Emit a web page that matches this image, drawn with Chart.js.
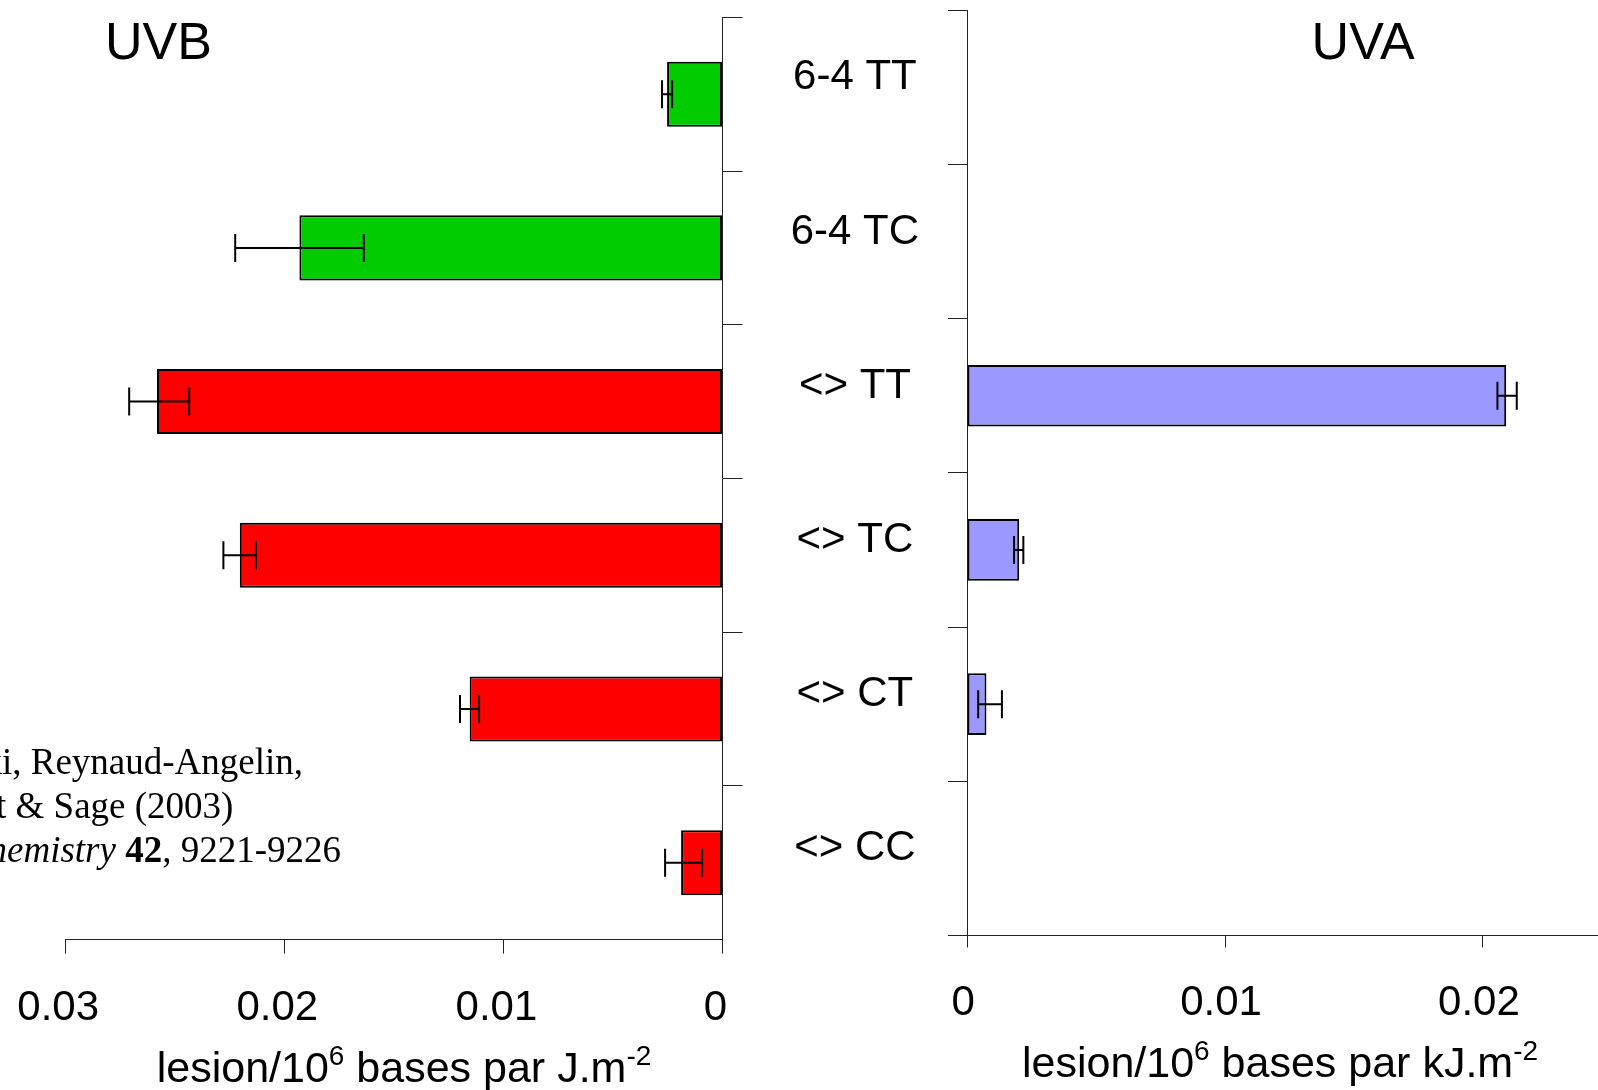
<!DOCTYPE html>
<html><head><meta charset="utf-8">
<script src="https://cdn.jsdelivr.net/npm/chart.js@4.4.0/dist/chart.umd.min.js"></script>
<style>
html,body{margin:0;padding:0;background:#fff;overflow:hidden}
#wrap{position:relative;width:1598px;height:1090px;background:#fff}
#c1{position:absolute;left:0;top:0}
#c2{position:absolute;left:760px;top:0}
</style></head><body>
<div id="wrap"><canvas id="c1" width="760" height="1090"></canvas><canvas id="c2" width="838" height="1090"></canvas></div>
<script>
// ---- data ----
const categories = ['6-4 TT', '6-4 TC', '<> TT', '<> TC', '<> CT', '<> CC'];
const uvbValues  = [0.00253, 0.01931, 0.02581, 0.02203, 0.01154, 0.00189];
const uvbErrLow  = [0.00230, 0.01637, 0.02434, 0.02129, 0.01111, 0.00093];
const uvbErrHigh = [0.00276, 0.02224, 0.02708, 0.02278, 0.01198, 0.00262];
const uvbColors  = ['#00CC00', '#00CC00', '#FF0000', '#FF0000', '#FF0000', '#FF0000'];
const uvaValues  = [null, null, 0.02090, 0.00202, 0.00075, null];
const uvaErrLow  = [null, null, 0.02056, 0.00182, 0.00043, null];
const uvaErrHigh = [null, null, 0.02131, 0.00218, 0.00135, null];
const uvaColor   = '#9999FF';
const uvbTicks = [0, 0.01, 0.02, 0.03];
const uvaTicks = [0, 0.01, 0.02];
const citation = ['Douki, Reynaud-Angelin,', 'Cadet & Sage (2003)'];

const SANS = '"Liberation Sans", Arial, Helvetica, sans-serif';
const SERIF = '"Liberation Serif", "Times New Roman", serif';
const fmt = v => String(+v.toFixed(2));

const errorBars = {
  id: 'errorBars',
  afterDatasetsDraw(chart, args, opts) {
    const ctx = chart.ctx, xs = chart.scales.x, ys = chart.scales.y;
    ctx.save();
    ctx.strokeStyle = '#000'; ctx.lineWidth = 2;
    opts.low.forEach((lo, i) => {
      if (lo == null) return;
      const yc = ys.getPixelForValue(i);
      const x1 = xs.getPixelForValue(lo), x2 = xs.getPixelForValue(opts.high[i]);
      ctx.beginPath();
      ctx.moveTo(x1, yc); ctx.lineTo(x2, yc);
      ctx.moveTo(x1, yc - 14); ctx.lineTo(x1, yc + 14);
      ctx.moveTo(x2, yc - 14); ctx.lineTo(x2, yc + 14);
      ctx.stroke();
    });
    ctx.restore();
  }
};

function drawRuns(ctx, runs, x, y, align) {
  let w = 0;
  runs.forEach(r => { ctx.font = r.font; r.w = ctx.measureText(r.t).width; w += r.w; });
  let cx = align === 'center' ? x - w / 2 : align === 'right' ? x - w : x;
  ctx.textAlign = 'left'; ctx.textBaseline = 'alphabetic';
  runs.forEach(r => { ctx.font = r.font; ctx.fillText(r.t, cx, y + (r.dy || 0)); cx += r.w; });
}
function axisTitle(unit) {
  const main = '43px ' + SANS, sup = '28px ' + SANS;
  return [{t: 'lesion/10', font: main}, {t: '6', font: sup, dy: -17},
          {t: ' bases par ' + unit + '.m', font: main}, {t: '-2', font: sup, dy: -17}];
}

const texts = {
  id: 'texts',
  afterDraw(chart, args, opts) {
    const ctx = chart.ctx;
    ctx.save(); ctx.fillStyle = '#000';
    opts.draw(ctx);
    ctx.restore();
  }
};

const baseFont = {family: SANS, size: 42};

// ---- UVB (left) ----
new Chart(document.getElementById('c1'), {
  type: 'bar',
  data: {labels: categories, datasets: [{
    data: uvbValues, backgroundColor: uvbColors, borderColor: '#000', borderWidth: 2,
    borderSkipped: false, barPercentage: 0.423, categoryPercentage: 1
  }]},
  options: {
    indexAxis: 'y', responsive: false, animation: false, devicePixelRatio: 1,
    layout: {padding: {left: 65.2, top: 17.3, right: 0, bottom: 0}},
    scales: {
      x: {
        type: 'linear', position: 'bottom', reverse: true, min: 0, max: 0.03,
        afterBuildTicks: s => { s.ticks = uvbTicks.map(v => ({value: v})); },
        afterFit: s => { s.height = 150.4; },
        grid: {drawOnChartArea: false, tickLength: 14, color: '#222'},
        border: {display: true, color: '#222', width: 1},
        ticks: {font: baseFont, color: '#000', padding: 30, labelOffset: -7, maxRotation: 0,
                callback: v => fmt(v)}
      },
      y: {
        type: 'category', position: 'right', offset: true,
        afterFit: s => { s.width = 37.5; s.paddingTop = 0; s.paddingBottom = 0; },
        grid: {drawOnChartArea: false, offset: true, tickLength: 20,
               color: c => c.type === 'tick' ? '#222' : 'rgba(0,0,0,0)'},
        border: {display: true, color: '#222', width: 1},
        ticks: {display: false}
      }
    },
    plugins: {
      legend: {display: false}, tooltip: {enabled: false},
      errorBars: {low: uvbErrLow, high: uvbErrHigh},
      texts: {draw: ctx => {
        ctx.font = '52px ' + SANS; ctx.textAlign = 'left'; ctx.textBaseline = 'alphabetic';
        ctx.fillText('UVB', 105, 59);
        drawRuns(ctx, axisTitle('J'), 404, 1082, 'center');
        ctx.font = '37px ' + SERIF; ctx.textAlign = 'right';
        ctx.fillText(citation[0], 303, 773.5);
        ctx.fillText(citation[1], 233.4, 818.3);
        drawRuns(ctx, [{t: 'Biochemistry', font: 'italic 37px ' + SERIF},
                       {t: ' ', font: '37px ' + SERIF},
                       {t: '42', font: 'bold 37px ' + SERIF},
                       {t: ', 9221-9226', font: '37px ' + SERIF}], 341, 862, 'right');
      }}
    }
  },
  plugins: [errorBars, texts]
});

// ---- UVA (right) ----
new Chart(document.getElementById('c2'), {
  type: 'bar',
  data: {labels: categories, datasets: [{
    data: uvaValues, backgroundColor: uvaColor, borderColor: '#000', borderWidth: 2,
    borderSkipped: false, barPercentage: 0.40, categoryPercentage: 1
  }]},
  options: {
    indexAxis: 'y', responsive: false, animation: false, devicePixelRatio: 1,
    layout: {padding: {left: 0, top: 10.2, right: 0, bottom: 0}},
    scales: {
      x: {
        type: 'linear', position: 'bottom', min: 0, max: 0.02446,
        afterBuildTicks: s => { s.ticks = uvaTicks.map(v => ({value: v})); },
        afterFit: s => { s.height = 154.5; s.paddingRight = 0; },
        grid: {drawOnChartArea: false, tickLength: 12, color: '#222'},
        border: {display: true, color: '#222', width: 1},
        ticks: {font: baseFont, color: '#000', padding: 31, labelOffset: -4, maxRotation: 0,
                callback: v => fmt(v)}
      },
      y: {
        type: 'category', position: 'left', offset: true,
        afterFit: s => { s.width = 207.1; s.paddingTop = 0; s.paddingBottom = 0; },
        grid: {drawOnChartArea: false, offset: true, tickLength: 19, color: '#222'},
        border: {display: true, color: '#222', width: 1},
        ticks: {font: baseFont, color: '#000', crossAlign: 'center', padding: 29, labelOffset: -9.5}
      }
    },
    plugins: {
      legend: {display: false}, tooltip: {enabled: false},
      errorBars: {low: uvaErrLow, high: uvaErrHigh},
      texts: {draw: ctx => {
        ctx.font = '52px ' + SANS; ctx.textAlign = 'left'; ctx.textBaseline = 'alphabetic';
        ctx.fillText('UVA', 551.6, 59);
        drawRuns(ctx, axisTitle('kJ'), 520, 1077, 'center');
      }}
    }
  },
  plugins: [errorBars, texts]
});
</script>
</body></html>
